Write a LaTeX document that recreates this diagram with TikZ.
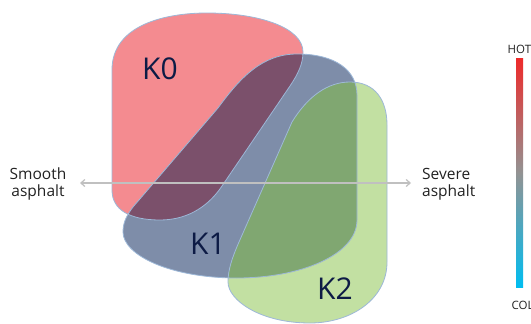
\documentclass[tikz,border=0pt]{standalone}
\usepackage{fontspec}
\setmainfont{Open Sans}
\usetikzlibrary{arrows.meta}
\definecolor{kzero}{HTML}{F48B90}
\definecolor{kone}{HTML}{7E8DA9}
\definecolor{ktwo}{HTML}{C2E0A2}
\definecolor{kzo}{HTML}{7B506B}
\definecolor{kot}{HTML}{80A771}
\definecolor{edge}{HTML}{9DB8D8}
\definecolor{klabel}{HTML}{0D1B45}
\definecolor{axis}{HTML}{C0C0C0}
\definecolor{hot}{HTML}{EE2A2A}
\definecolor{cold}{HTML}{00BDF0}
\definecolor{txt}{HTML}{222222}
\def\KzeroPath{(112,190) -- (112,70) .. controls (112,25) and (165,13) .. (207,13) .. controls (260,13) and (303,28) .. (303,52) .. controls (303,64) and (298,74) .. (290,86) -- (222,186) .. controls (210,204) and (190,220) .. (160,220) .. controls (130,220) and (112,210) .. (112,190) -- cycle}
\def\KonePath{(297,54) .. controls (335,54) and (357,70) .. (357,95) -- (357,220) .. controls (357,255) and (300,278) .. (237,278) .. controls (170,278) and (123,255) .. (123,232) .. controls (123,222) and (127,215) .. (133,207) -- (218,108) .. controls (240,78) and (262,54) .. (297,54) -- cycle}
\def\KtwoPath{(350,82) .. controls (375,82) and (387,100) .. (387,125) -- (387,262) .. controls (387,300) and (350,323) .. (310,323) .. controls (260,323) and (228,300) .. (228,282) .. controls (228,270) and (232,258) .. (239,242) -- (292,122) .. controls (308,96) and (328,82) .. (350,82) -- cycle}
\tikzset{
  outline/.style={draw=edge, line width=0.8pt},
  klab/.style={text=klabel, font=\fontsize{30}{32}\selectfont, inner sep=0pt},
  side/.style={text=txt, font=\fontsize{15.5}{17}\selectfont, inner sep=0pt, align=left},
  barlab/.style={text=txt, font=\fontsize{11.5}{13}\selectfont, inner sep=0pt, anchor=base west},
  axisline/.style={draw=axis, line width=1.2pt, {Straight Barb[length=4pt,width=7pt]}-{Straight Barb[length=4pt,width=7pt]}}
}
\begin{document}
\begin{tikzpicture}[x=1pt,y=-1pt]
\useasboundingbox (0,0) rectangle (531,324);
\fill[white] (0,0) rectangle (531,324);
% shapes
\fill[kzero] \KzeroPath;
\fill[kone] \KonePath;
\fill[ktwo] \KtwoPath;
\begin{scope}
  \clip \KzeroPath;
  \fill[kzo] \KonePath;
\end{scope}
\begin{scope}
  \clip \KonePath;
  \fill[kot] \KtwoPath;
\end{scope}
\draw[outline] \KzeroPath;
\draw[outline] \KonePath;
\draw[outline] \KtwoPath;
% axis
\coordinate (axL) at (80,183);
\coordinate (axR) at (411,183);
\draw[axisline] (axL) -- (axR);
% labels
\node[klab] (k0) at (160,69) {K0};
\node[klab] (k1) at (208,244) {K1};
\node[klab] (k2) at (335,289) {K2};
\node[side, align=center] (smooth) at (38,184) {Smooth\\asphalt};
\node[side, anchor=west] (severe) at (422,184) {Severe\\asphalt};
% colour bar
\shade[top color=hot, bottom color=cold, middle color=gray!85] (516,58) rectangle (523,287);
\node[barlab] (hotlab) at (507.5,53) {HOT};
\node[barlab] (coldlab) at (511.5,309) {COLD};
\end{tikzpicture}
\end{document}
